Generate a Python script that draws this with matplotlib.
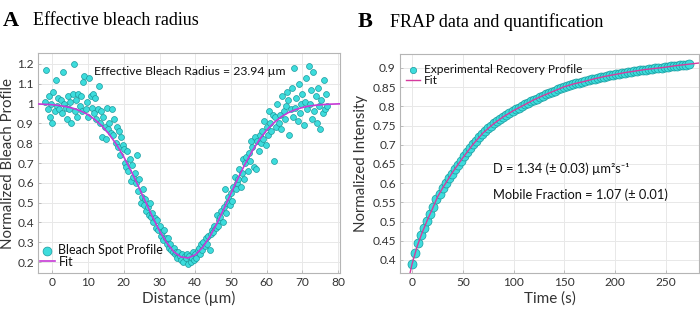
import matplotlib
matplotlib.use("Agg")
import matplotlib.pyplot as plt
from matplotlib.ticker import FixedLocator, FixedFormatter

plt.rcParams['font.family'] = ['Lato', 'DejaVu Sans']

# ---- panel A: bleach spot profile ----
dist_um = [-2.0, -1.7, -1.3, -1.0, -0.7, -0.3, 0.0, 0.3, 0.7, 1.0, 1.3, 1.7,
           2.0, 2.3, 2.7, 3.0, 3.3, 3.7, 4.0, 4.3, 4.7, 5.0, 5.3, 5.7,
           6.0, 6.3, 6.7, 7.0, 7.3, 7.7, 8.0, 8.3, 8.7, 9.0, 9.3, 9.7,
           10.0, 10.3, 10.7, 11.0, 11.3, 11.7, 12.0, 12.3, 12.7, 13.0, 13.3, 13.7,
           14.0, 14.3, 14.7, 15.0, 15.3, 15.7, 16.0, 16.3, 16.7, 17.0, 17.3, 17.7,
           18.0, 18.3, 18.7, 19.0, 19.3, 19.7, 20.0, 20.3, 20.7, 21.0, 21.3, 21.7,
           22.0, 22.3, 22.7, 23.0, 23.3, 23.7, 24.0, 24.3, 24.7, 25.0, 25.3, 25.7,
           26.0, 26.3, 26.7, 27.0, 27.3, 27.7, 28.0, 28.3, 28.7, 29.0, 29.3, 29.7,
           30.0, 30.3, 30.7, 31.0, 31.3, 31.7, 32.0, 32.3, 32.7, 33.0, 33.3, 33.7,
           34.0, 34.3, 34.7, 35.0, 35.3, 35.7, 36.0, 36.3, 36.7, 37.0, 37.3, 37.7,
           38.0, 38.3, 38.7, 39.0, 39.3, 39.7, 40.0, 40.3, 40.7, 41.0, 41.3, 41.7,
           42.0, 42.3, 42.7, 43.0, 43.3, 43.7, 44.0, 44.3, 44.7, 45.0, 45.3, 45.7,
           46.0, 46.3, 46.7, 47.0, 47.3, 47.7, 48.0, 48.3, 48.7, 49.0, 49.3, 49.7,
           50.0, 50.3, 50.7, 51.0, 51.3, 51.7, 52.0, 52.3, 52.7, 53.0, 53.3, 53.7,
           54.0, 54.3, 54.7, 55.0, 55.3, 55.7, 56.0, 56.3, 56.7, 57.0, 57.3, 57.7,
           58.0, 58.3, 58.7, 59.0, 59.3, 59.7, 60.0, 60.3, 60.7, 61.0, 61.3, 61.7,
           62.0, 62.3, 62.7, 63.0, 63.3, 63.7, 64.0, 64.3, 64.7, 65.0, 65.3, 65.7,
           66.0, 66.3, 66.7, 67.0, 67.3, 67.7, 68.0, 68.3, 68.7, 69.0, 69.3, 69.7,
           70.0, 70.3, 70.7, 71.0, 71.3, 71.7, 72.0, 72.3, 72.7, 73.0, 73.3, 73.7,
           74.0, 74.3, 74.7, 75.0, 75.3, 75.7, 76.0, 76.3, 76.7, 77.0]
bleach_profile = [1.01, 1.17, 0.97, 1.04, 0.93, 1.00, 0.90, 1.06, 0.96, 1.12, 0.99, 1.03,
                  0.97, 1.02, 0.95, 1.16, 1.00, 0.98, 0.92, 1.04, 0.97, 1.01, 0.90, 1.05,
                  1.20, 0.96, 1.02, 0.93, 1.05, 0.99, 1.04, 0.96, 1.11, 1.14, 0.97, 1.01,
                  0.93, 1.13, 1.04, 0.98, 1.05, 0.95, 1.03, 0.92, 0.97, 1.09, 0.90, 0.96,
                  0.83, 0.93, 0.88, 0.82, 0.98, 0.87, 0.90, 0.85, 0.97, 0.84, 0.92, 0.80,
                  0.88, 0.78, 0.86, 0.74, 0.83, 0.79, 0.77, 0.70, 0.68, 0.76, 0.66, 0.72,
                  0.61, 0.69, 0.63, 0.65, 0.60, 0.74, 0.56, 0.62, 0.50, 0.53, 0.57, 0.49,
                  0.52, 0.46, 0.48, 0.44, 0.50, 0.43, 0.45, 0.40, 0.42, 0.37, 0.41, 0.36,
                  0.38, 0.33, 0.35, 0.31, 0.36, 0.32, 0.29, 0.32, 0.27, 0.29, 0.26, 0.25,
                  0.27, 0.24, 0.25, 0.22, 0.25, 0.23, 0.21, 0.24, 0.20, 0.23, 0.22, 0.24,
                  0.19, 0.23, 0.20, 0.22, 0.25, 0.21, 0.24, 0.22, 0.26, 0.27, 0.24, 0.29,
                  0.26, 0.30, 0.28, 0.32, 0.29, 0.33, 0.26, 0.34, 0.36, 0.35, 0.38, 0.37,
                  0.44, 0.38, 0.41, 0.43, 0.46, 0.40, 0.48, 0.57, 0.45, 0.50, 0.53, 0.49,
                  0.55, 0.51, 0.58, 0.63, 0.57, 0.60, 0.62, 0.67, 0.58, 0.65, 0.72, 0.62,
                  0.70, 0.73, 0.66, 0.75, 0.71, 0.81, 0.78, 0.68, 0.83, 0.67, 0.81, 0.76,
                  0.84, 0.80, 0.86, 0.82, 0.91, 0.79, 0.88, 0.84, 0.96, 0.90, 0.86, 0.94,
                  0.71, 0.93, 0.88, 1.00, 0.90, 0.94, 0.87, 1.04, 0.96, 0.92, 0.99, 1.06,
                  1.02, 0.84, 0.97, 1.08, 0.93, 1.18, 0.98, 1.03, 0.91, 1.10, 0.95, 1.00,
                  1.05, 0.89, 1.01, 1.13, 0.97, 1.19, 1.00, 1.07, 0.92, 1.16, 0.96, 1.04,
                  0.90, 1.08, 0.99, 0.87, 1.02, 0.95, 1.12, 0.97, 1.05, 0.99]

fit_dist_um = [-4, 0, 2, 4, 6, 8, 10, 12, 14, 16, 18, 20, 22, 24, 26, 28, 30, 32, 34, 36, 38,
               40, 42, 44, 46, 48, 50, 52, 54, 56, 58, 60, 62, 64, 66, 68, 70, 72, 74, 76, 78, 81]
fit_profile = [0.998, 0.994, 0.990, 0.984, 0.975, 0.962, 0.944, 0.918, 0.885, 0.843, 0.792,
               0.731, 0.661, 0.586, 0.507, 0.430, 0.358, 0.298, 0.252, 0.226, 0.221,
               0.237, 0.273, 0.326, 0.393, 0.468, 0.547, 0.624, 0.697, 0.762, 0.819,
               0.866, 0.903, 0.932, 0.954, 0.969, 0.980, 0.988, 0.992, 0.995, 0.997, 0.999]

# ---- panel B: FRAP recovery ----
time_s = [0, 3, 6, 9, 12, 15, 18, 21, 24, 27, 30, 33, 36, 39, 42, 45, 48, 51, 54, 57,
          60, 63, 66, 69, 72, 75, 78, 81, 84, 87, 90, 93, 96, 99, 102, 105, 108, 111, 114, 117,
          120, 123, 126, 129, 132, 135, 138, 141, 144, 147, 150, 153, 156, 159, 162, 165, 168, 171, 174, 177,
          180, 183, 186, 189, 192, 195, 198, 201, 204, 207, 210, 213, 216, 219, 222, 225, 228, 231, 234, 237,
          240, 243, 246, 249, 252, 255, 258, 261, 264, 267, 270, 273]
recovery = [0.390, 0.418, 0.443, 0.465, 0.483, 0.502, 0.520, 0.539, 0.558, 0.573, 0.587, 0.600, 0.613, 0.625,
            0.637, 0.648, 0.659, 0.670, 0.681, 0.691, 0.701, 0.710, 0.719, 0.728, 0.736, 0.743, 0.750,
            0.756, 0.762, 0.768, 0.773, 0.778, 0.783, 0.787, 0.792, 0.796, 0.800, 0.805, 0.809, 0.813,
            0.817, 0.820, 0.824, 0.828, 0.831, 0.835, 0.838, 0.841, 0.845, 0.848, 0.851, 0.853, 0.856,
            0.858, 0.860, 0.862, 0.864, 0.866, 0.868, 0.870, 0.872, 0.874, 0.876, 0.877, 0.879, 0.881,
            0.882, 0.884, 0.885, 0.886, 0.888, 0.889, 0.890, 0.891, 0.893, 0.894, 0.895, 0.896, 0.897,
            0.898, 0.899, 0.900, 0.901, 0.902, 0.903, 0.904, 0.905, 0.906, 0.907, 0.908, 0.909, 0.910]

fit_time_s = [-3, 0, 5, 10, 15, 20, 25, 30, 40, 50, 60, 70, 80, 90, 100, 110, 120, 130, 140, 150,
              160, 170, 180, 190, 200, 210, 220, 230, 240, 250, 260, 270, 280, 290]
fit_recovery = [0.355, 0.390, 0.436, 0.472, 0.504, 0.533, 0.564, 0.587, 0.629, 0.666, 0.701, 0.731,
                0.754, 0.773, 0.789, 0.803, 0.817, 0.829, 0.840, 0.851, 0.859, 0.865, 0.872, 0.878,
                0.883, 0.888, 0.892, 0.896, 0.899, 0.902, 0.906, 0.909, 0.912, 0.915]

a_yticks = [0.2, 0.3, 0.4, 0.5, 0.6, 0.7, 0.8, 0.9, 1.0, 1.1, 1.2]
a_ylabels = ['0.2', '0.3', '0.4', '0.5', '0.6', '0.7', '0.8', '0.9', '1', '1.1', '1.2']
a_xticks = [0, 10, 20, 30, 40, 50, 60, 70, 80]
b_yticks = [0.4, 0.45, 0.5, 0.55, 0.6, 0.65, 0.7, 0.75, 0.8, 0.85, 0.9]
b_ylabels = ['0.4', '0.45', '0.5', '0.55', '0.6', '0.65', '0.7', '0.75', '0.8', '0.85', '0.9']
b_xticks = [0, 50, 100, 150, 200, 250]

dot_face = '#3ddcdc'
dot_edge = '#1a9a9e'
text_col = '#333333'

fig = plt.figure(figsize=(7.0, 3.17), dpi=100)
axA = fig.add_axes([0.0543, 0.1388, 0.4314, 0.694])
axB = fig.add_axes([0.5714, 0.1388, 0.4272, 0.691])


def style(ax):
    ax.grid(True, color='#e8e8e8', lw=0.7)
    ax.set_axisbelow(True)
    for s in ax.spines.values():
        s.set_color('#b5b5b5')
        s.set_linewidth(0.8)
    ax.tick_params(direction='in', length=2.5, width=0.6, color='#b5b5b5',
                   labelsize=8.6, labelcolor=text_col, pad=3)


axA.scatter(dist_um, bleach_profile, s=18, c=dot_face, edgecolors=dot_edge, linewidths=0.5,
            label='Bleach Spot Profile', zorder=2)
axA.plot(fit_dist_um, fit_profile, color='#c63ad6', lw=1.2, label='Fit', zorder=3)
axA.set_xlim(-4, 80.5)
axA.set_ylim(0.145, 1.255)
axA.yaxis.set_major_locator(FixedLocator(a_yticks))
axA.yaxis.set_major_formatter(FixedFormatter(a_ylabels))
axA.set_xticks(a_xticks)
style(axA)
axA.set_xlabel('Distance (µm)', fontsize=11, color=text_col, labelpad=2)
axA.set_ylabel('Normalized Bleach Profile', fontsize=10.8, color=text_col)
axA.yaxis.set_label_coords(-0.075, 0.5)
axA.text(0.503, 0.915, 'Effective Bleach Radius = 23.94 µm', transform=axA.transAxes,
         ha='center', va='center', fontsize=8.8, color='#111111')
axA.legend(loc='lower left', bbox_to_anchor=(-0.015, -0.005), frameon=False, fontsize=9,
           handlelength=1.2, handletextpad=0.3, borderaxespad=0.1, labelspacing=0.0,
           markerscale=1.5, labelcolor='#111111')

axB.scatter(time_s, recovery, s=42, c=dot_face, edgecolors=dot_edge, linewidths=0.5,
            label='Experimental Recovery Profile', zorder=2)
axB.plot(fit_time_s, fit_recovery, color='#d63a9e', lw=1.0, label='Fit', zorder=3)
axB.set_xlim(-12, 283)
axB.set_ylim(0.366, 0.9365)
axB.yaxis.set_major_locator(FixedLocator(b_yticks))
axB.yaxis.set_major_formatter(FixedFormatter(b_ylabels))
axB.set_xticks(b_xticks)
style(axB)
axB.set_xlabel('Time (s)', fontsize=11, color=text_col, labelpad=2)
axB.set_ylabel('Normalized Intensity', fontsize=10.8, color=text_col)
axB.yaxis.set_label_coords(-0.108, 0.5)
axB.text(0.31, 0.475, 'D = 1.34 (± 0.03) µm²s⁻¹', transform=axB.transAxes,
         ha='left', va='center', fontsize=9.3, color='#111111')
axB.text(0.31, 0.357, 'Mobile Fraction = 1.07 (± 0.01)', transform=axB.transAxes,
         ha='left', va='center', fontsize=9.3, color='#111111')
axB.legend(loc='upper left', bbox_to_anchor=(0.0, 0.98), frameon=False, fontsize=8.6,
           handlelength=1.2, handletextpad=0.3, borderaxespad=0.1, labelspacing=0.0,
           markerscale=0.7, labelcolor='#111111')

fig.text(0.004, 0.935, 'A', fontsize=16, fontweight='bold', family='Liberation Serif', va='center')
fig.text(0.047, 0.935, 'Effective bleach radius', fontsize=13, family='Liberation Serif', va='center')
fig.text(0.511, 0.93, 'B', fontsize=16, fontweight='bold', family='Liberation Serif', va='center')
fig.text(0.557, 0.93, 'FRAP data and quantification', fontsize=13, family='Liberation Serif', va='center')

fig.savefig('out.png', dpi=100)
